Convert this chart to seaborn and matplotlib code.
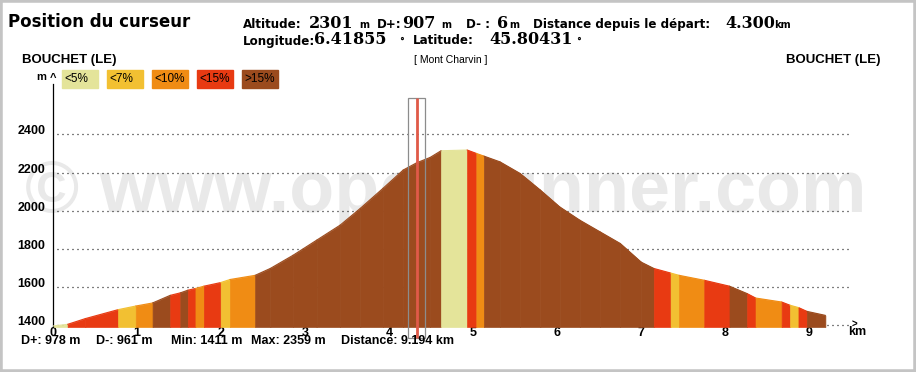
import numpy as np
import pandas as pd
import matplotlib
matplotlib.use("Agg")
import matplotlib.pyplot as plt
from matplotlib.patches import Rectangle
import seaborn as sns

# elevation profile (km, m); band edges are points too
dist_km = [0.00, 0.18, 0.39, 0.78, 0.99, 1.19, 1.40, 1.52, 1.61, 1.70, 1.80,
           2.00, 2.11, 2.41, 2.59, 2.86, 3.14, 3.42, 3.66, 3.93, 4.17, 4.33,
           4.49, 4.62, 4.93, 5.04, 5.13, 5.32, 5.56, 5.80, 6.03, 6.27, 6.51,
           6.75, 7.00, 7.15, 7.35, 7.45, 7.75, 8.05, 8.26, 8.36, 8.67, 8.77,
           8.87, 8.97, 9.19]
elev_m = [1395, 1404, 1434, 1481, 1500, 1516, 1556, 1569, 1583, 1592, 1604,
          1623, 1639, 1661, 1697, 1766, 1845, 1924, 2012, 2117, 2213, 2251,
          2279, 2314, 2318, 2300, 2286, 2256, 2195, 2108, 2020, 1950, 1889,
          1828, 1730, 1697, 1673, 1661, 1635, 1604, 1565, 1542, 1521, 1504,
          1492, 1472, 1451]
# grade class of each segment between consecutive points (0 = <5% ... 4 = >15%)
seg_grade = [0, 3, 3, 1, 2, 4, 3, 4, 3, 2, 3,
             1, 2, 4, 4, 4, 4, 4, 4, 4, 4, 4,
             4, 0, 3, 2, 4, 4, 4, 4, 4, 4, 4,
             4, 4, 3, 1, 2, 3, 4, 3, 2, 3, 1,
             3, 4]

grade_labels = ["<5%", "<7%", "<10%", "<15%", ">15%"]
grade_colors = ["#e4e49a", "#f2c032", "#f08c14", "#e83a12", "#9b4b1e"]

ytick_vals = [1400, 1600, 1800, 2000, 2200, 2400]
xtick_vals = list(range(10))
cursor_km = 4.33

start_name = "BOUCHET (LE)"
end_name = "BOUCHET (LE)"
summit_name = "[ Mont Charvin ]"
stats_labels = ["D+: 978 m", "D-: 961 m", "Min: 1411 m", "Max: 2359 m",
                "Distance: 9.194 km"]

W, H = 916, 372
Y0 = 1390


def fx(px):
    return px / W


def fy(py):
    return 1 - py / H


sns.set_style("white")
plt.rcParams["font.family"] = ["Liberation Sans", "DejaVu Sans"]
plt.rcParams["text.color"] = "black"
plt.rcParams["xtick.color"] = "black"
plt.rcParams["ytick.color"] = "black"

fig = plt.figure(figsize=(W / 100, H / 100), dpi=100)
ax = fig.add_axes([fx(52.5), fy(327), fx(855 - 52.5), (327 - 84) / H])
ax.set_facecolor("none")

# profile bands
for i, g in enumerate(seg_grade):
    ax.fill_between(dist_km[i:i + 2], Y0, elev_m[i:i + 2],
                    color=grade_colors[g], ec=grade_colors[g], lw=0.5, zorder=2)

rows = []
for i, g in enumerate(seg_grade):
    for j in (i, i + 1):
        rows.append({"seg": i, "grade": grade_labels[g],
                     "km": dist_km[j], "elev": elev_m[j]})
df = pd.DataFrame(rows)
sns.lineplot(data=df, x="km", y="elev", hue="grade", units="seg",
             estimator=None, palette=dict(zip(grade_labels, grade_colors)),
             legend=False, lw=0.8, ax=ax, zorder=3)

# dotted grid + x axis
ax.hlines(ytick_vals, 0.05, 9.5, colors="black", lw=0.9,
          linestyles=(0, (0.8, 3.2)), zorder=1)
ax.text(9.5, 1400, ">", fontsize=7, fontweight="bold", ha="left",
        va="center", zorder=4)

ax.set_xlim(0, (855 - 52.5) / 84.1)
ax.set_ylim(Y0, 1400 + (324.8 - 84) / 0.1905)
ax.set_xticks(xtick_vals)
ax.set_yticks(ytick_vals)
ax.set_xticklabels([str(v) for v in xtick_vals], fontsize=9, fontweight="bold")
ax.set_yticklabels([str(v) for v in ytick_vals], fontsize=9, fontweight="bold",
                   va="baseline")
ax.tick_params(axis="both", length=0)
ax.tick_params(axis="x", pad=0)
ax.tick_params(axis="y", pad=5)
ax.set_xlabel("")
ax.set_ylabel("")
for s in ["top", "right", "bottom"]:
    ax.spines[s].set_visible(False)
ax.spines["left"].set_color("black")
ax.spines["left"].set_linewidth(0.9)

# cursor
ax.add_patch(Rectangle((cursor_km - 0.103, 1331), 0.206, 2590 - 1331,
                       fill=False, ec="#8c8c8c", lw=0.9, zorder=5,
                       clip_on=False))
ax.vlines(cursor_km, 1331, 2590, colors="#e05a48", lw=2, zorder=6,
          clip_on=False)

# watermark behind the plot
fig.text(fx(446), fy(212), "\u00a9 www.openrunner.com", fontsize=53,
         fontweight="bold", color="#e9e9e9", ha="center", va="baseline",
         zorder=-1)

# header
fig.text(fx(8), fy(27), "Position du curseur", fontsize=12, fontweight="bold",
         family="DejaVu Sans", va="baseline")
header = [
    ("Altitude:", 243, 28, "lab"), ("2301", 309, 28, "num"), ("m", 359, 28, "unit"),
    ("D+:", 377, 28, "lab"), ("907", 402, 28, "num"), ("m", 441, 28, "unit"),
    ("D- :", 466, 28, "lab"), ("6", 497, 28, "num"), ("m", 509, 28, "unit"),
    ("Distance depuis le départ:", 533, 28, "lab"), ("4.300", 725, 28, "num"),
    ("km", 774, 28, "unit"),
    ("Longitude:", 243, 44.5, "lab"), ("6.41855", 314, 44.5, "num"),
    ("°", 399, 44.5, "unit"),
    ("Latitude:", 413, 44.5, "lab"), ("45.80431", 489, 44.5, "num"),
    ("°", 576, 44.5, "unit"),
]
for txt, x, y, kind in header:
    if kind == "lab":
        fig.text(fx(x), fy(y), txt, fontsize=8.6, fontweight="bold",
                 family="DejaVu Sans", va="baseline")
    elif kind == "num":
        fig.text(fx(x), fy(y), txt, fontsize=11.5, fontweight="bold",
                 family="DejaVu Serif", va="baseline")
    else:
        fig.text(fx(x), fy(y), txt, fontsize=7, fontweight="bold",
                 family="DejaVu Sans", va="baseline")

fig.text(fx(22), fy(60), start_name, fontsize=9.5, fontweight="bold",
         va="center")
fig.text(fx(880), fy(60), end_name, fontsize=9.5, fontweight="bold",
         va="center", ha="right")
fig.text(fx(451), fy(60), summit_name, fontsize=7.5, va="center", ha="center")

# legend boxes
fig.text(fx(41), fy(77), "m", fontsize=8, fontweight="bold", ha="center",
         va="center")
fig.text(fx(53), fy(78), "^", fontsize=8, fontweight="bold", ha="center",
         va="center")
for k, (lab, col) in enumerate(zip(grade_labels, grade_colors)):
    x0 = 62 + 45 * k
    fig.patches.append(Rectangle((fx(x0), fy(88)), fx(36), 18 / H,
                                 transform=fig.transFigure, color=col))
    fig.text(fx(x0 + 2), fy(79.5), lab, fontsize=8.5, va="center")

# km label
fig.text(fx(857), fy(332), "km", fontsize=9, fontweight="bold", ha="center",
         va="center")

# bottom stats
for lab, x in zip(stats_labels, [20.7, 96, 171, 251, 341]):
    fig.text(fx(x), fy(341), lab, fontsize=9, fontweight="bold", va="center")

# grey frame
fig.patches.append(Rectangle((0, 0), 1, 1, transform=fig.transFigure,
                             fill=False, ec="#c4c4c4", lw=4))

fig.savefig("out.png", dpi=100)
